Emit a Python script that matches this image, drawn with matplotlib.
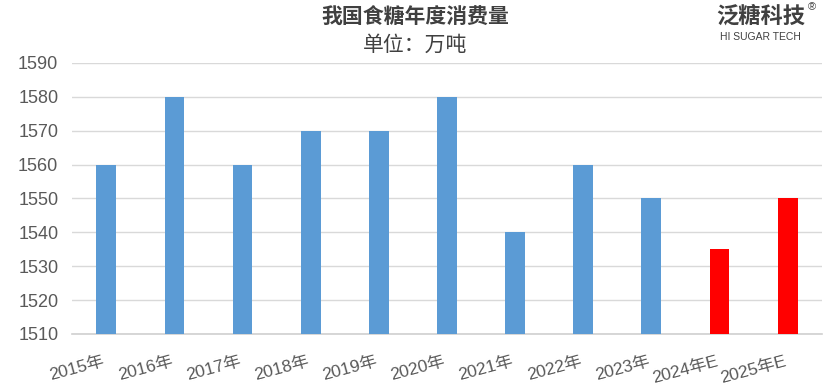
import matplotlib.pyplot as plt
from matplotlib.transforms import ScaledTranslation

plt.rcParams['font.family'] = ['Liberation Sans', 'Noto Sans CJK SC']

years = ['2015年', '2016年', '2017年', '2018年', '2019年', '2020年',
         '2021年', '2022年', '2023年', '2024年E', '2025年E']
consumption = [1560, 1580, 1560, 1570, 1570, 1580, 1540, 1560, 1550, 1535, 1550]
colors = ['#5B9BD5'] * 9 + ['#FF0000'] * 2

fig = plt.figure(figsize=(8.3, 3.86), dpi=100)
ax = fig.add_axes([0.087, 0.135, 0.903, 0.702])

x = range(len(years))
ax.bar(x, [v - 1510 for v in consumption], bottom=1510, width=0.29, color=colors, zorder=3)

ax.set_ylim(1510, 1590)
ax.set_xlim(-0.5, len(years) - 0.5)
ax.set_yticks(range(1510, 1591, 10))
ax.grid(axis='y', color='#D9D9D9', linewidth=1, zorder=0)
for s in ['top', 'right', 'left']:
    ax.spines[s].set_visible(False)
ax.spines['bottom'].set_color('#D0D0D0')
ax.spines['bottom'].set_linewidth(1.2)
ax.tick_params(axis='y', length=0, colors='#595959', labelsize=13, pad=10)
ax.tick_params(axis='x', length=0, colors='#595959', labelsize=12.5, pad=14)
ax.set_xticks(list(x))
ax.set_xticklabels(years, rotation=15, ha='right', va='top', rotation_mode='anchor')
shift = ScaledTranslation(-4 / 100, 0, fig.dpi_scale_trans)
for lab in ax.get_xticklabels():
    lab.set_transform(lab.get_transform() + shift)

fig.text(0.5, 0.955, '我国食糖年度消费量', ha='center', va='center', fontsize=15,
         color='#404040', family=['Noto Sans CJK SC'], weight='bold')
fig.text(0.5, 0.885, '单位：万吨', ha='center', va='center', fontsize=15,
         color='#404040', family=['Noto Sans CJK SC'])

# logo
fig.text(0.916, 0.958, '泛糖科技', ha='center', va='center', fontsize=16,
         color='#404040', family=['Noto Sans CJK SC'], weight='bold')
fig.text(0.978, 0.982, '®', ha='center', va='center', fontsize=8, color='#404040')
fig.text(0.916, 0.905, 'HI SUGAR TECH', ha='center', va='center', fontsize=7.5,
         color='#404040')

fig.savefig('out.png', dpi=100)
